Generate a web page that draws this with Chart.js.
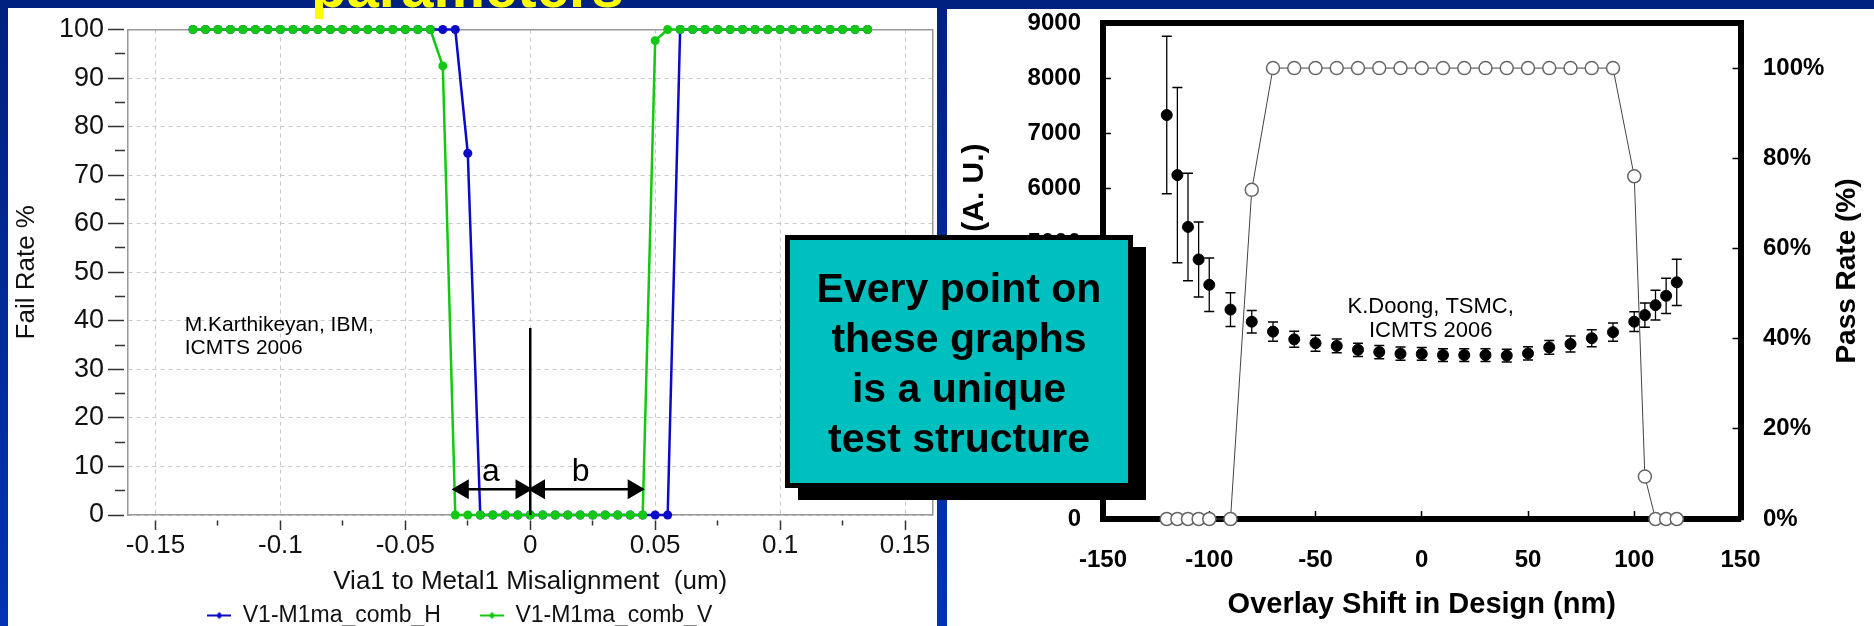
<!DOCTYPE html>
<html>
<head>
<meta charset="utf-8">
<script src="https://cdn.jsdelivr.net/npm/chart.js@4.4.1/dist/chart.umd.min.js"></script>
<style>
  html, body { margin: 0; padding: 0; }
  body {
    width: 1874px; height: 626px; overflow: hidden; position: relative;
    background: linear-gradient(#00217e, #0034b3);
    font-family: "Liberation Sans", Arial, sans-serif;
  }
  .panel { position: absolute; background: #fff; overflow: hidden; }
  .panel canvas { position: absolute; top: 0; }
  #leftPanel { left: 8px; top: 8px; width: 929px; height: 618px; }
  #leftCanvas { left: -27px; }
  #rightPanel { left: 947px; top: 9px; width: 927px; height: 617px; }
  #rightCanvas { left: 0; }
  #slideTitle {
    position: absolute; left: 311px; top: -42px; z-index: 5;
    font: bold 58px "Liberation Sans", Arial, sans-serif; line-height: 58px; color: #ffff00;
  }
  #callout {
    position: absolute; left: 785px; top: 235px; width: 348px; height: 253px; box-sizing: border-box;
    border: 5px solid #000; background: #00bfbf; box-shadow: 13px 12px 0 #000; z-index: 4;
    padding-top: 23px; text-align: center; color: #000;
    font: bold 41px "Liberation Sans", Arial, sans-serif; line-height: 50px;
  }
</style>
</head>
<body>
<div id="slideTitle">parameters</div>
<div class="panel" id="leftPanel"><canvas id="leftCanvas" width="963" height="629"></canvas></div>
<div class="panel" id="rightPanel"><canvas id="rightCanvas" width="927" height="617"></canvas></div>
<div id="callout">Every point on<br>these graphs<br>is a unique<br>test structure</div>
<script>
// left graph: fail rate vs via1/metal1 misalignment
const misalignUm = [-0.135, -0.13, -0.125, -0.12, -0.115, -0.11, -0.105, -0.1, -0.095, -0.09, -0.085, -0.08, -0.075, -0.07,
  -0.065, -0.06, -0.055, -0.05, -0.045, -0.04, -0.035, -0.03, -0.025, -0.02, -0.015, -0.01, -0.005, 0, 0.005, 0.01,
  0.015, 0.02, 0.025, 0.03, 0.035, 0.04, 0.045, 0.05, 0.055, 0.06, 0.065, 0.07, 0.075, 0.08, 0.085, 0.09, 0.095, 0.1,
  0.105, 0.11, 0.115, 0.12, 0.125, 0.13, 0.135];
const failH = [100, 100, 100, 100, 100, 100, 100, 100, 100, 100, 100, 100, 100, 100, 100, 100, 100, 100, 100, 100, 100, 100,
  74.5, 0, 0, 0, 0, 0, 0, 0, 0, 0, 0, 0, 0, 0, 0, 0, 0, 100, 100, 100, 100, 100, 100, 100, 100, 100, 100, 100, 100, 100,
  100, 100, 100];
const failV = [100, 100, 100, 100, 100, 100, 100, 100, 100, 100, 100, 100, 100, 100, 100, 100, 100, 100, 100, 100, 92.5,
  0, 0, 0, 0, 0, 0, 0, 0, 0, 0, 0, 0, 0, 0, 0, 0, 97.7, 100, 100, 100, 100, 100, 100, 100, 100, 100, 100, 100, 100, 100,
  100, 100, 100, 100];
const seriesNames = ["V1-M1ma_comb_H", "V1-M1ma_comb_V"];

// the "a" / "b" marks drawn on the left graph
const zeroLineX = [0, 0];
const zeroLineY = [38.5, 0];
const arrowAX = [-0.0269, -0.0036];
const arrowBX = [0.0036, 0.0413];
const arrowY = 5.3;
const leftNotes = [
  { text: "M.Karthikeyan, IBM,", x: -0.1383, y: 37.9, size: 21, align: "left" },
  { text: "ICMTS 2006", x: -0.1383, y: 33.1, size: 21, align: "left" },
  { text: "a", x: -0.0158, y: 7.0, size: 32, align: "center" },
  { text: "b", x: 0.0202, y: 7.0, size: 32, align: "center" }
];

// right graph: resistance and pass rate vs overlay shift
const shiftNm = [-120, -115, -110, -105, -100, -90, -80, -70, -60, -50, -40, -30, -20, -10, 0, 10, 20, 30, 40, 50, 60,
  70, 80, 90, 100, 105, 110, 115, 120];
const resistance = [7330, 6240, 5300, 4710, 4250, 3800, 3580, 3400, 3260, 3190, 3140, 3070, 3030, 3000, 2995, 2975, 2975,
  2975, 2965, 3005, 3115, 3175, 3280, 3390, 3580, 3700, 3880, 4050, 4295];
const resistanceErr = [1430, 1590, 975, 680, 485, 305, 205, 175, 145, 145, 125, 120, 120, 120, 115, 115, 115, 115, 115,
  120, 125, 145, 155, 165, 180, 220, 270, 320, 420];
const passRate = [0, 0, 0, 0, 0, 0, 73, 100, 100, 100, 100, 100, 100, 100, 100, 100, 100, 100, 100, 100, 100, 100, 100,
  100, 76, 9.4, 0, 0, 0];
const rightNotes = [
  { text: "K.Doong, TSMC,", x: 4.2, y: 3733 },
  { text: "ICMTS 2006", x: 4.2, y: 3297 }
];

const blueH = "#0a0ac8";
const greenV = "#12c812";

Chart.defaults.font.family = '"Liberation Sans", Arial, sans-serif';
Chart.defaults.color = "#111";

function isMajorX(v) {
  return Math.abs(Math.round(v / 0.025)) % 2 === 0;
}

function legendMark(color) {
  const c = document.createElement("canvas");
  c.width = 24;
  c.height = 12;
  const g = c.getContext("2d");
  g.strokeStyle = color;
  g.lineWidth = 2;
  g.beginPath();
  g.moveTo(0, 6);
  g.lineTo(24, 6);
  g.stroke();
  g.fillStyle = color;
  g.beginPath();
  g.moveTo(12, 2.5); g.lineTo(15.5, 6); g.lineTo(12, 9.5); g.lineTo(8.5, 6);
  g.closePath();
  g.fill();
  return c;
}
const legendMarks = [legendMark(blueH), legendMark(greenV)];

function notesPlugin(id, notes, yId) {
  return {
    id: id,
    afterDatasetsDraw(chart) {
      const { ctx, scales } = chart;
      ctx.save();
      ctx.fillStyle = "#000";
      ctx.textBaseline = "alphabetic";
      notes.forEach(n => {
        ctx.font = (n.size || 22) + 'px "Liberation Sans", Arial, sans-serif';
        ctx.textAlign = n.align || "center";
        ctx.fillText(n.text, scales.x.getPixelForValue(n.x), scales[yId].getPixelForValue(n.y));
      });
      ctx.restore();
    }
  };
}

// chart.js turns a right-hand title top-to-bottom; this one reads bottom-to-top
const passTitle = {
  id: "passTitle",
  afterDraw(chart) {
    const { ctx, chartArea } = chart;
    const s = chart.scales.y2;
    ctx.save();
    ctx.translate(s.right - 27, (chartArea.top + chartArea.bottom) / 2);
    ctx.rotate(-Math.PI / 2);
    ctx.font = 'bold 28px "Liberation Sans", Arial, sans-serif';
    ctx.fillStyle = "#000";
    ctx.textAlign = "center";
    ctx.textBaseline = "middle";
    ctx.fillText("Pass Rate (%)", 0, 0);
    ctx.restore();
  }
};

// fixed axis sizes so the plot boxes land where the slide has them
function fixWidth(w) {
  return s => { s.width = w; s.paddingTop = 0; s.paddingBottom = 0; };
}
function fixHeight(h) {
  return s => { s.height = h; s.paddingLeft = 0; s.paddingRight = 0; };
}

const leftChart = new Chart(document.getElementById("leftCanvas"), {
  type: "line",
  data: {
    datasets: [
      {
        label: seriesNames[0],
        data: misalignUm.map((x, i) => ({ x, y: failH[i] })),
        borderColor: blueH, backgroundColor: blueH, borderWidth: 2.5,
        pointStyle: "circle", pointRadius: 4.5, pointBorderWidth: 0, order: 2, clip: false
      },
      {
        label: seriesNames[1],
        data: misalignUm.map((x, i) => ({ x, y: failV[i] })),
        borderColor: greenV, backgroundColor: greenV, borderWidth: 2.5,
        pointStyle: "circle", pointRadius: 4.5, pointBorderWidth: 0, order: 1, clip: false
      },
      {
        label: "zero",
        data: zeroLineX.map((x, i) => ({ x, y: zeroLineY[i] })),
        borderColor: "#000", borderWidth: 2.5, pointRadius: 0, order: 0
      },
      {
        label: "a",
        data: arrowAX.map(x => ({ x, y: arrowY })),
        borderColor: "#000", backgroundColor: "#000", borderWidth: 2.5,
        pointStyle: "triangle", pointRadius: 9, pointRotation: [270, 90], order: 0
      },
      {
        label: "b",
        data: arrowBX.map(x => ({ x, y: arrowY })),
        borderColor: "#000", backgroundColor: "#000", borderWidth: 2.5,
        pointStyle: "triangle", pointRadius: 9, pointRotation: [270, 90], order: 0
      }
    ]
  },
  options: {
    responsive: false, animation: false, devicePixelRatio: 1, events: [],
    layout: { padding: { left: 0, right: 5.5, top: 21.5, bottom: 0 } },
    scales: {
      x: {
        type: "linear", min: -0.161, max: 0.161,
        ticks: {
          stepSize: 0.025, includeBounds: false, autoSkip: false, maxRotation: 0, padding: 0,
          font: { size: 26 }, color: "#111",
          callback: v => isMajorX(v) ? String(+v.toFixed(3)) : ""
        },
        grid: {
          color: c => isMajorX(c.tick.value) ? "#c8c8c8" : "rgba(0,0,0,0)",
          tickColor: "#333", tickWidth: 1.5, tickLength: 15,
          tickBorderDash: c => isMajorX(c.tick.value) ? [0, 5, 10, 40] : [0, 5, 5, 40]
        },
        border: { color: "#999", width: 1.5, dash: [4, 4] },
        title: {
          display: true, text: "Via1 to Metal1 Misalignment  (um)", color: "#111",
          font: { size: 26 }, padding: { top: 0, bottom: -32.6 }
        },
        afterFit: fixHeight(50)
      },
      x2: {
        type: "linear", position: "top",
        ticks: { display: false }, grid: { display: false, drawTicks: false },
        border: { color: "#999", width: 1.5 },
        afterFit: fixHeight(0)
      },
      y: {
        min: 0, max: 100,
        ticks: {
          stepSize: 5, autoSkip: false, padding: 4, font: { size: 27 }, color: "#111",
          callback: v => v % 10 === 0 ? String(v) : ""
        },
        grid: {
          color: c => c.tick.value % 10 === 0 ? "#c8c8c8" : "rgba(0,0,0,0)",
          tickColor: "#333", tickWidth: 1.5, tickLength: 20,
          tickBorderDash: c => c.tick.value % 10 === 0 ? [16, 40] : [0, 7, 10, 40]
        },
        border: { color: "#999", width: 1.5, dash: [4, 4] },
        title: { display: true, text: "Fail Rate %", color: "#111", font: { size: 26 }, padding: { top: 30.4, bottom: 0 } },
        afterFit: fixWidth(147)
      },
      y2: {
        type: "linear", position: "right",
        ticks: { display: false }, grid: { display: false, drawTicks: false },
        border: { color: "#999", width: 1.5 },
        afterFit: fixWidth(0)
      }
    },
    plugins: {
      tooltip: { enabled: false },
      legend: {
        display: true, position: "bottom",
        labels: {
          usePointStyle: true, pointStyleWidth: 24, padding: 39, color: "#111", font: { size: 23 },
          generateLabels: chart => Chart.defaults.plugins.legend.labels.generateLabels(chart)
            .map(item => Object.assign(item, { pointStyle: legendMarks[item.datasetIndex] })),
          filter: item => item.datasetIndex < 2,
          sort: (a, b) => a.datasetIndex - b.datasetIndex
        }
      }
    }
  },
  plugins: [notesPlugin("leftNotes", leftNotes, "y")]
});

const errSegments = [];
shiftNm.forEach((x, i) => {
  errSegments.push({ x, y: resistance[i] - resistanceErr[i] });
  errSegments.push({ x, y: resistance[i] + resistanceErr[i] });
  errSegments.push({ x, y: null });
});

const boldTicks = { size: 24, weight: "bold" };

const rightChart = new Chart(document.getElementById("rightCanvas"), {
  type: "line",
  data: {
    datasets: [
      {
        label: "error",
        data: errSegments, yAxisID: "y",
        borderColor: "#000", borderWidth: 1.3, spanGaps: false,
        pointStyle: "line", pointRadius: 5, pointBorderWidth: 1.5, pointBorderColor: "#000", order: 2
      },
      {
        label: "resistance",
        data: shiftNm.map((x, i) => ({ x, y: resistance[i] })), yAxisID: "y",
        showLine: false, pointRadius: 5.5, pointBackgroundColor: "#000", pointBorderColor: "#000", order: 1
      },
      {
        label: "pass rate",
        data: shiftNm.map((x, i) => ({ x, y: passRate[i] })), yAxisID: "y2",
        borderColor: "#444", borderWidth: 1, pointRadius: 6.5,
        pointBackgroundColor: "#fff", pointBorderColor: "#666", pointBorderWidth: 1.5, order: 0, clip: false
      }
    ]
  },
  options: {
    responsive: false, animation: false, devicePixelRatio: 1, events: [],
    layout: { padding: { left: 0, right: 0, top: 14, bottom: 0 } },
    scales: {
      x: {
        type: "linear", min: -150, max: 150,
        ticks: { stepSize: 50, autoSkip: false, maxRotation: 0, padding: 34.6, font: boldTicks, color: "#000" },
        grid: { drawOnChartArea: false, tickLength: -8, tickColor: "#000", tickWidth: 1.5 },
        border: { color: "#000", width: 6 },
        title: {
          display: true, text: "Overlay Shift in Design (nm)", color: "#000",
          font: { size: 29, weight: "bold" }, padding: { top: 0, bottom: 3.6 }
        },
        afterFit: fixHeight(107)
      },
      xTop: {
        type: "linear", position: "top",
        ticks: { display: false }, grid: { display: false, drawTicks: false },
        border: { color: "#000", width: 6 },
        afterFit: fixHeight(0)
      },
      y: {
        position: "left", min: 0, max: 9000,
        ticks: { stepSize: 1000, autoSkip: false, padding: 30, font: boldTicks, color: "#000", callback: v => String(v) },
        grid: { drawOnChartArea: false, tickLength: -8, tickColor: "#000", tickWidth: 1.5 },
        border: { color: "#000", width: 6 },
        title: {
          display: true, text: "Resistance (A. U.)", color: "#000",
          font: { size: 30, weight: "bold" }, padding: { top: 10, bottom: 0 }
        },
        afterFit: fixWidth(156)
      },
      y2: {
        position: "right", min: 0, max: 110,
        ticks: {
          stepSize: 20, includeBounds: false, autoSkip: false, padding: 30.5, font: boldTicks, color: "#000",
          callback: v => v + "%"
        },
        grid: { drawOnChartArea: false, tickLength: -8, tickColor: "#000", tickWidth: 1.5 },
        border: { color: "#000", width: 6 },
        afterFit: fixWidth(133.5)
      }
    },
    plugins: { tooltip: { enabled: false }, legend: { display: false } }
  },
  plugins: [notesPlugin("rightNotes", rightNotes, "y"), passTitle]
});
</script>
</body>
</html>
